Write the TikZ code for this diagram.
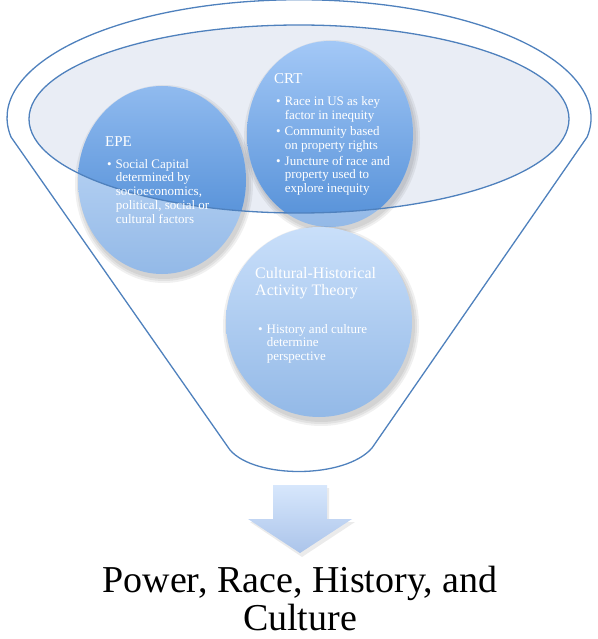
\documentclass[tikz,border=0pt]{standalone}
\usepackage{fontspec}
\setmainfont{Liberation Serif}
\usetikzlibrary{positioning}
\definecolor{funnelline}{HTML}{4F81BD}
\definecolor{mouthfill}{HTML}{E9EDF5}
\definecolor{bubbletop}{HTML}{C9DFFA}
\definecolor{bubblebot}{HTML}{93B9E7}
\definecolor{innertop}{HTML}{AACDF9}
\definecolor{innerbot}{HTML}{5A94DA}
\definecolor{arrowtop}{HTML}{D7E7FC}
\definecolor{arrowbot}{HTML}{ABC4EA}
\tikzset{funnel/.style = {draw = funnelline, line width = 1.3pt, line join = round}}
\tikzset{head/.style = {text = white, anchor = base west, inner sep = 0, font = \fontsize{15}{17}\selectfont}}
\tikzset{pts/.style = {text = white, anchor = base west, inner sep = 0, font = \fontsize{13}{13.8}\selectfont}}
\newcommand{\blist}[1]{\begin{tabular}[t]{@{}l@{\hspace{4pt}}l@{}}#1\end{tabular}}

\begin{document}
\begin{tikzpicture}[x = 1pt, y = -1pt]
      \useasboundingbox (0, 0) rectangle (597, 639);
      % funnel body
      \draw [funnel, fill = white] (11, 137) arc [start angle = 170.6, end angle = 369.4, x radius = 292, y radius = 118]
            -- (372, 448) .. controls (345, 479) and (255, 479) .. (230, 450) -- cycle;
      \fill [mouthfill] (299, 119) ellipse [x radius = 270, y radius = 94];
      % bubbles
      \foreach \cx/\cy/\rx/\ry in {162/180/84/94, 330/134/83/93, 319/322/93/95} {
        \foreach \s in {1, 3, 5}
          \fill [black, opacity = 0.06] (\cx + 2, \cy + 4) ellipse [x radius = \rx + \s, y radius = \ry + \s];
        \shade [top color = bubbletop, bottom color = bubblebot] (\cx, \cy) ellipse [x radius = \rx, y radius = \ry];
      }
      \begin{scope}
        \clip (299, 119) ellipse [x radius = 270, y radius = 94];
        \foreach \cx/\cy/\rx/\ry in {162/180/84/94, 330/134/83/93} {
          \begin{scope}
            \clip (\cx, \cy) ellipse [x radius = \rx, y radius = \ry];
            \shade [top color = innertop, bottom color = innerbot] (29, 25) rectangle (569, 213);
          \end{scope}
        }
      \end{scope}
      \draw [funnel] (299, 119) ellipse [x radius = 270, y radius = 94];
      % texts
      \node (epe) [head] at (105, 147) {EPE};
      \node (epepts) [pts] at (107, 168) {\blist{\textbullet & Social Capital\\ & determined by\\ & socioeconomics,\\ & political, social or\\ & cultural factors}};
      \node (crt) [head] at (274, 84) {CRT};
      \node (crtpts) [pts] at (276, 106) {\blist{\textbullet & Race in US as key\\ & factor in inequity\\[2pt] \textbullet & Community based\\ & on property rights\\[2pt] \textbullet & Juncture of race and\\ & property used to\\ & explore inequity}};
      \node (chat) [head, align = left, font = \fontsize{16}{16.5}\selectfont] at (255, 295) {Cultural-Historical\\Activity Theory};
      \node (chatpts) [pts] at (258, 333) {\blist{\textbullet & History and culture\\ & determine\\ & perspective}};
      % arrow
      \fill [black, opacity = 0.08] (275, 488) -- (329, 488) -- (329, 522) -- (355, 522) -- (302, 557) -- (250, 522) -- (275, 522) -- cycle;
      \shade [top color = arrowtop, bottom color = arrowbot] (273, 485) -- (327, 485) -- (327, 519) -- (352, 519) -- (300, 553) -- (248, 519) -- (273, 519) -- cycle;
      \node (result) [anchor = south, align = center, inner sep = 0, text depth = 0pt, font = \fontsize{38}{38}\selectfont] at (300, 631) {Power, Race, History, and\\Culture};
\end{tikzpicture}
\end{document}
